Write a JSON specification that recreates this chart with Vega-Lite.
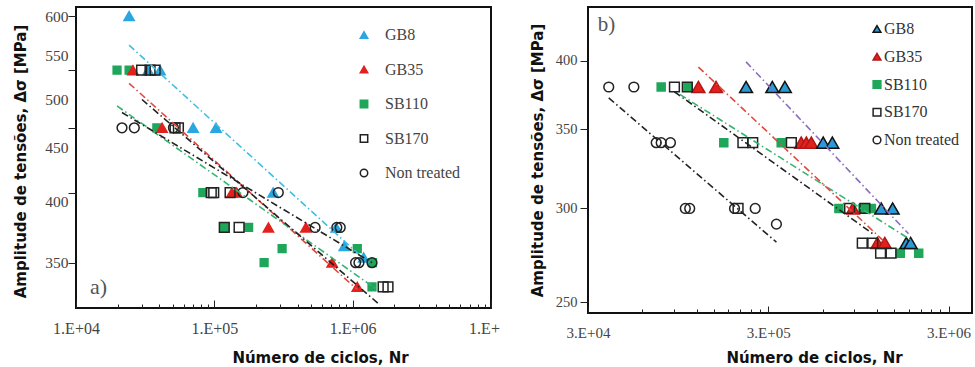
{
  "$schema": "https://vega.github.io/schema/vega-lite/v6.json",
  "padding": {"left": 12, "top": 6, "right": 0, "bottom": 0},
  "background": "white",
  "bounds": "flush",
  "spacing": 97,
  "config": {
    "view": {"stroke": "#111", "strokeWidth": 2},
    "axis": {"grid": false, "domain": false, "tickColor": "#222", "tickWidth": 1, "labelFont": "Liberation Serif", "labelColor": "#444", "labelOverlap": false, "titleFont": "DejaVu Sans", "titleFontWeight": "bold", "titleFontSize": 15, "titleColor": "#111"},
    "legend": {"title": null, "orient": "none", "padding": 0, "symbolStrokeWidth": 1.5, "labelFont": "Liberation Serif"}
  },
  "datasets": {
    "pointsA": [
      {"series": "SB110", "N": 19800, "S": 533}, {"series": "SB110", "N": 24200, "S": 533}, {"series": "SB110", "N": 38400, "S": 470}, {"series": "SB110", "N": 82600, "S": 408}, {"series": "SB110", "N": 118600, "S": 378}, {"series": "SB110", "N": 177000, "S": 378}, {"series": "SB110", "N": 229000, "S": 350}, {"series": "SB110", "N": 309000, "S": 361}, {"series": "SB110", "N": 1080000, "S": 361}, {"series": "SB110", "N": 1390000, "S": 350}, {"series": "SB110", "N": 1380000, "S": 332},
      {"series": "GB35", "N": 25800, "S": 533}, {"series": "GB35", "N": 41900, "S": 470}, {"series": "GB35", "N": 134000, "S": 408}, {"series": "GB35", "N": 145000, "S": 408}, {"series": "GB35", "N": 246000, "S": 378}, {"series": "GB35", "N": 459000, "S": 378}, {"series": "GB35", "N": 711000, "S": 350}, {"series": "GB35", "N": 1080000, "S": 332},
      {"series": "GB8", "N": 24200, "S": 600}, {"series": "GB8", "N": 33200, "S": 533}, {"series": "GB8", "N": 40500, "S": 533}, {"series": "GB8", "N": 70200, "S": 470}, {"series": "GB8", "N": 102800, "S": 470}, {"series": "GB8", "N": 266000, "S": 408}, {"series": "GB8", "N": 760000, "S": 378}, {"series": "GB8", "N": 870000, "S": 363}, {"series": "GB8", "N": 1200000, "S": 354},
      {"series": "SB170", "N": 29800, "S": 533}, {"series": "SB170", "N": 34300, "S": 533}, {"series": "SB170", "N": 37300, "S": 533}, {"series": "SB170", "N": 52000, "S": 470}, {"series": "SB170", "N": 55000, "S": 470}, {"series": "SB170", "N": 95000, "S": 408}, {"series": "SB170", "N": 99000, "S": 408}, {"series": "SB170", "N": 130000, "S": 408}, {"series": "SB170", "N": 118000, "S": 378}, {"series": "SB170", "N": 151000, "S": 378}, {"series": "SB170", "N": 1660000, "S": 332}, {"series": "SB170", "N": 1800000, "S": 332},
      {"series": "Non treated", "N": 21500, "S": 470}, {"series": "Non treated", "N": 26400, "S": 470}, {"series": "Non treated", "N": 50600, "S": 470}, {"series": "Non treated", "N": 161000, "S": 408}, {"series": "Non treated", "N": 290000, "S": 408}, {"series": "Non treated", "N": 535000, "S": 378}, {"series": "Non treated", "N": 768000, "S": 378}, {"series": "Non treated", "N": 813000, "S": 378}, {"series": "Non treated", "N": 1050000, "S": 350}, {"series": "Non treated", "N": 1110000, "S": 350}, {"series": "Non treated", "N": 1380000, "S": 350}
    ],
    "linesA": [
      {"fit": "GB8", "N": 24200, "S": 563}, {"fit": "GB8", "N": 1230000, "S": 352},
      {"fit": "GB35", "N": 24200, "S": 518}, {"fit": "GB35", "N": 1080000, "S": 330},
      {"fit": "SB110", "N": 19800, "S": 493}, {"fit": "SB110", "N": 1450000, "S": 331},
      {"fit": "SB170", "N": 30000, "S": 500}, {"fit": "SB170", "N": 1580000, "S": 319},
      {"fit": "Non treated", "N": 21500, "S": 486}, {"fit": "Non treated", "N": 1380000, "S": 350}
    ],
    "pointsB": [
      {"series": "SB110", "N": 76400, "S": 380}, {"series": "SB110", "N": 107600, "S": 380}, {"series": "SB110", "N": 170000, "S": 341}, {"series": "SB110", "N": 354000, "S": 341}, {"series": "SB110", "N": 740000, "S": 300}, {"series": "SB110", "N": 1006000, "S": 300}, {"series": "SB110", "N": 1120000, "S": 300}, {"series": "SB110", "N": 1620000, "S": 275}, {"series": "SB110", "N": 2050000, "S": 275},
      {"series": "GB35", "N": 123000, "S": 380}, {"series": "GB35", "N": 154000, "S": 380}, {"series": "GB35", "N": 457000, "S": 341}, {"series": "GB35", "N": 488000, "S": 341}, {"series": "GB35", "N": 520000, "S": 341}, {"series": "GB35", "N": 885000, "S": 300}, {"series": "GB35", "N": 1210000, "S": 280.5}, {"series": "GB35", "N": 1330000, "S": 280.5},
      {"series": "GB8", "N": 226000, "S": 380}, {"series": "GB8", "N": 316000, "S": 380}, {"series": "GB8", "N": 371000, "S": 380}, {"series": "GB8", "N": 605000, "S": 341}, {"series": "GB8", "N": 680000, "S": 341}, {"series": "GB8", "N": 1270000, "S": 300}, {"series": "GB8", "N": 1470000, "S": 300}, {"series": "GB8", "N": 1750000, "S": 280.5}, {"series": "GB8", "N": 1850000, "S": 280.5},
      {"series": "SB170", "N": 90500, "S": 380}, {"series": "SB170", "N": 106700, "S": 380}, {"series": "SB170", "N": 217000, "S": 341}, {"series": "SB170", "N": 246000, "S": 341}, {"series": "SB170", "N": 403000, "S": 341}, {"series": "SB170", "N": 204000, "S": 300}, {"series": "SB170", "N": 848000, "S": 300}, {"series": "SB170", "N": 1030000, "S": 300}, {"series": "SB170", "N": 997000, "S": 280.5}, {"series": "SB170", "N": 1140000, "S": 280.5}, {"series": "SB170", "N": 1260000, "S": 275}, {"series": "SB170", "N": 1440000, "S": 275},
      {"series": "Non treated", "N": 39100, "S": 380}, {"series": "Non treated", "N": 53900, "S": 380}, {"series": "Non treated", "N": 71700, "S": 341}, {"series": "Non treated", "N": 76400, "S": 341}, {"series": "Non treated", "N": 86000, "S": 341}, {"series": "Non treated", "N": 104000, "S": 300}, {"series": "Non treated", "N": 110000, "S": 300}, {"series": "Non treated", "N": 195000, "S": 300}, {"series": "Non treated", "N": 254000, "S": 300}, {"series": "Non treated", "N": 333000, "S": 291}
    ],
    "linesB": [
      {"fit": "Non treated", "N": 39100, "S": 372}, {"fit": "Non treated", "N": 333000, "S": 281},
      {"fit": "SB170", "N": 90500, "S": 376.5}, {"fit": "SB170", "N": 1140000, "S": 285.6},
      {"fit": "SB110", "N": 97000, "S": 374.6}, {"fit": "SB110", "N": 1870000, "S": 282},
      {"fit": "GB35", "N": 123000, "S": 395}, {"fit": "GB35", "N": 1330000, "S": 281},
      {"fit": "GB8", "N": 226000, "S": 399}, {"fit": "GB8", "N": 1800000, "S": 285.6}
    ]
  },
  "hconcat": [
    {
      "width": 415,
      "height": 301,
      "encoding": {
        "x": {"field": "N", "type": "quantitative", "scale": {"type": "log", "domain": [10000, 10000000], "nice": false},
          "axis": {"title": "Número de ciclos, Nr", "values": [10000, 20000, 30000, 40000, 50000, 60000, 70000, 80000, 90000, 100000, 200000, 300000, 400000, 500000, 600000, 700000, 800000, 900000, 1000000, 2000000, 3000000, 4000000, 5000000, 6000000, 7000000, 8000000, 9000000, 10000000],
            "labelExpr": "datum.value == 10000 ? '1.E+04' : datum.value == 100000 ? '1.E+05' : datum.value == 1000000 ? '1.E+06' : datum.value == 10000000 ? '1.E+' : ''",
            "tickSize": {"condition": {"test": "indexof([10000, 100000, 1000000, 10000000], datum.value) >= 0", "value": -8}, "value": -4},
            "labelOffset": {"condition": {"test": "datum.value == 10000000", "value": -7}, "value": 0},
            "labelPadding": 20, "labelFlush": false, "labelFontSize": 16,
            "titleX": 244, "titleY": 49, "titleBaseline": "middle"}},
        "y": {"field": "S", "type": "quantitative", "scale": {"type": "log", "domain": [317, 612], "nice": false},
          "axis": {"title": "Amplitude de tensões, Δσ [MPa]", "values": [350, 400, 408, 450, 470, 500, 533, 550, 600],
            "labelExpr": "indexof([350, 400, 450, 500, 550, 600], datum.value) >= 0 ? '' + datum.value : ''",
            "tickOpacity": {"condition": {"test": "indexof([350, 408, 470, 533, 600], datum.value) >= 0", "value": 1}, "value": 0},
            "tickSize": 8, "labelPadding": 0, "labelFontSize": 15.5,
            "titleX": -56, "titleY": 154, "titleBaseline": "middle"}}
      },
      "layer": [
        {
          "data": {"name": "pointsA"},
          "transform": [{"filter": {"field": "series", "oneOf": ["SB110"]}}],
          "mark": {"type": "point", "filled": true, "opacity": 1, "strokeWidth": 1.5, "size": 60},
          "encoding": {
            "shape": {"field": "series", "type": "nominal", "scale": {"domain": ["GB8", "GB35", "SB110", "SB170", "Non treated"], "range": ["triangle-up", "triangle-up", "square", "square", "circle"]},
              "legend": {"legendX": 280, "legendY": 20, "rowPadding": 18.5, "labelOffset": 13, "symbolSize": 55, "labelFontSize": 16, "labelColor": "#444"}},
            "fill": {"field": "series", "type": "nominal", "scale": {"domain": ["GB8", "GB35", "SB110", "SB170", "Non treated"], "range": ["#2aa6e0", "#e3211c", "#1fa65a", "transparent", "transparent"]},
              "legend": {"legendX": 280, "legendY": 20, "rowPadding": 18.5, "labelOffset": 13, "symbolSize": 55, "labelFontSize": 16, "labelColor": "#444"}},
            "stroke": {"field": "series", "type": "nominal", "scale": {"domain": ["GB8", "GB35", "SB110", "SB170", "Non treated"], "range": ["#2aa6e0", "#e3211c", "#1fa65a", "#222222", "#222222"]},
              "legend": {"legendX": 280, "legendY": 20, "rowPadding": 18.5, "labelOffset": 13, "symbolSize": 55, "labelFontSize": 16, "labelColor": "#444"}}
          }
        },
        {
          "data": {"name": "pointsA"},
          "transform": [{"filter": {"field": "series", "oneOf": ["GB35", "GB8"]}}],
          "mark": {"type": "point", "filled": true, "opacity": 1, "strokeWidth": 1.5, "size": 105},
          "encoding": {
            "shape": {"field": "series", "type": "nominal", "scale": {"domain": ["GB8", "GB35", "SB110", "SB170", "Non treated"], "range": ["triangle-up", "triangle-up", "square", "square", "circle"]},
              "legend": {"legendX": 280, "legendY": 20, "rowPadding": 18.5, "labelOffset": 13, "symbolSize": 55, "labelFontSize": 16, "labelColor": "#444"}},
            "fill": {"field": "series", "type": "nominal", "scale": {"domain": ["GB8", "GB35", "SB110", "SB170", "Non treated"], "range": ["#2aa6e0", "#e3211c", "#1fa65a", "transparent", "transparent"]},
              "legend": {"legendX": 280, "legendY": 20, "rowPadding": 18.5, "labelOffset": 13, "symbolSize": 55, "labelFontSize": 16, "labelColor": "#444"}},
            "stroke": {"field": "series", "type": "nominal", "scale": {"domain": ["GB8", "GB35", "SB110", "SB170", "Non treated"], "range": ["#2aa6e0", "#e3211c", "#1fa65a", "#222222", "#222222"]},
              "legend": {"legendX": 280, "legendY": 20, "rowPadding": 18.5, "labelOffset": 13, "symbolSize": 55, "labelFontSize": 16, "labelColor": "#444"}}
          }
        },
        {
          "data": {"name": "pointsA"},
          "transform": [{"filter": {"field": "series", "oneOf": ["SB170", "Non treated"]}}],
          "mark": {"type": "point", "filled": true, "opacity": 1, "strokeWidth": 1.5, "size": 95},
          "encoding": {
            "shape": {"field": "series", "type": "nominal", "scale": {"domain": ["GB8", "GB35", "SB110", "SB170", "Non treated"], "range": ["triangle-up", "triangle-up", "square", "square", "circle"]},
              "legend": {"legendX": 280, "legendY": 20, "rowPadding": 18.5, "labelOffset": 13, "symbolSize": 55, "labelFontSize": 16, "labelColor": "#444"}},
            "fill": {"field": "series", "type": "nominal", "scale": {"domain": ["GB8", "GB35", "SB110", "SB170", "Non treated"], "range": ["#2aa6e0", "#e3211c", "#1fa65a", "transparent", "transparent"]},
              "legend": {"legendX": 280, "legendY": 20, "rowPadding": 18.5, "labelOffset": 13, "symbolSize": 55, "labelFontSize": 16, "labelColor": "#444"}},
            "stroke": {"field": "series", "type": "nominal", "scale": {"domain": ["GB8", "GB35", "SB110", "SB170", "Non treated"], "range": ["#2aa6e0", "#e3211c", "#1fa65a", "#222222", "#222222"]},
              "legend": {"legendX": 280, "legendY": 20, "rowPadding": 18.5, "labelOffset": 13, "symbolSize": 55, "labelFontSize": 16, "labelColor": "#444"}}
          }
        },
        {
          "data": {"name": "linesA"},
          "mark": {"type": "line", "strokeWidth": 1.6, "strokeDash": [7, 3, 1.5, 3]},
          "encoding": {
            "color": {"field": "fit", "type": "nominal", "scale": {"domain": ["GB8", "GB35", "SB110", "SB170", "Non treated"], "range": ["#3cbfe0", "#e2473d", "#36b572", "#222222", "#222222"]}, "legend": null},
            "detail": {"field": "fit", "type": "nominal"}
          }
        },
        {
          "data": {"values": [{"label": "a)", "N": 12600, "S": 331.7}]},
          "mark": {"type": "text", "font": "Liberation Serif", "fontSize": 22, "color": "#555", "align": "left", "baseline": "middle"},
          "encoding": {"text": {"field": "label"}}
        }
      ]
    },
    {
      "width": 384,
      "height": 306,
      "encoding": {
        "x": {"field": "N", "type": "quantitative", "scale": {"type": "log", "domain": [30000, 4050000], "nice": false},
          "axis": {"title": "Número de ciclos, Nr", "values": [30000, 60000, 90000, 120000, 150000, 180000, 210000, 240000, 270000, 300000, 600000, 900000, 1200000, 1500000, 1800000, 2100000, 2400000, 2700000, 3000000],
            "labelExpr": "datum.value == 30000 ? '3.E+04' : datum.value == 300000 ? '3.E+05' : datum.value == 3000000 ? '3.E+06' : ''",
            "tickSize": {"condition": {"test": "indexof([30000, 300000, 3000000], datum.value) >= 0", "value": -7}, "value": -4},
            "labelPadding": 19, "labelFlush": false, "labelFontSize": 15,
            "titleX": 226, "titleY": 44, "titleBaseline": "middle"}},
        "y": {"field": "S", "type": "quantitative", "scale": {"type": "log", "domain": [244.8, 444], "nice": false},
          "axis": {"title": "Amplitude de tensões, Δσ [MPa]", "values": [250, 300, 350, 400],
            "labelExpr": "'' + datum.value",
            "tickSize": 8, "labelPadding": 3, "labelFontSize": 14.5,
            "titleX": -50.5, "titleY": 153, "titleBaseline": "middle"}}
      },
      "layer": [
        {
          "data": {"name": "pointsB"},
          "transform": [{"filter": {"field": "series", "oneOf": ["SB110"]}}],
          "mark": {"type": "point", "filled": true, "opacity": 1, "strokeWidth": 1.5, "size": 64},
          "encoding": {
            "shape": {"field": "series", "type": "nominal", "scale": {"domain": ["GB8", "GB35", "SB110", "SB170", "Non treated"], "range": ["triangle-up", "triangle-up", "square", "square", "circle"]},
              "legend": {"legendX": 281, "legendY": 14, "rowPadding": 11.75, "labelOffset": -1, "symbolSize": 60, "labelFontSize": 16, "labelColor": "#333"}},
            "fill": {"field": "series", "type": "nominal", "scale": {"domain": ["GB8", "GB35", "SB110", "SB170", "Non treated"], "range": ["#2b9ad6", "#e3211c", "#1fa65a", "transparent", "transparent"]},
              "legend": {"legendX": 281, "legendY": 14, "rowPadding": 11.75, "labelOffset": -1, "symbolSize": 60, "labelFontSize": 16, "labelColor": "#333"}},
            "stroke": {"field": "series", "type": "nominal", "scale": {"domain": ["GB8", "GB35", "SB110", "SB170", "Non treated"], "range": ["#111111", "#b01818", "#1fa65a", "#222222", "#222222"]},
              "legend": {"legendX": 281, "legendY": 14, "rowPadding": 11.75, "labelOffset": -1, "symbolSize": 60, "labelFontSize": 16, "labelColor": "#333"}}
          }
        },
        {
          "data": {"name": "pointsB"},
          "transform": [{"filter": {"field": "series", "oneOf": ["GB35", "GB8"]}}],
          "mark": {"type": "point", "filled": true, "opacity": 1, "strokeWidth": 1.5, "size": 165},
          "encoding": {
            "shape": {"field": "series", "type": "nominal", "scale": {"domain": ["GB8", "GB35", "SB110", "SB170", "Non treated"], "range": ["triangle-up", "triangle-up", "square", "square", "circle"]},
              "legend": {"legendX": 281, "legendY": 14, "rowPadding": 11.75, "labelOffset": -1, "symbolSize": 60, "labelFontSize": 16, "labelColor": "#333"}},
            "fill": {"field": "series", "type": "nominal", "scale": {"domain": ["GB8", "GB35", "SB110", "SB170", "Non treated"], "range": ["#2b9ad6", "#e3211c", "#1fa65a", "transparent", "transparent"]},
              "legend": {"legendX": 281, "legendY": 14, "rowPadding": 11.75, "labelOffset": -1, "symbolSize": 60, "labelFontSize": 16, "labelColor": "#333"}},
            "stroke": {"field": "series", "type": "nominal", "scale": {"domain": ["GB8", "GB35", "SB110", "SB170", "Non treated"], "range": ["#111111", "#b01818", "#1fa65a", "#222222", "#222222"]},
              "legend": {"legendX": 281, "legendY": 14, "rowPadding": 11.75, "labelOffset": -1, "symbolSize": 60, "labelFontSize": 16, "labelColor": "#333"}}
          }
        },
        {
          "data": {"name": "pointsB"},
          "transform": [{"filter": {"field": "series", "oneOf": ["SB170", "Non treated"]}}],
          "mark": {"type": "point", "filled": true, "opacity": 1, "strokeWidth": 1.5, "size": 95},
          "encoding": {
            "shape": {"field": "series", "type": "nominal", "scale": {"domain": ["GB8", "GB35", "SB110", "SB170", "Non treated"], "range": ["triangle-up", "triangle-up", "square", "square", "circle"]},
              "legend": {"legendX": 281, "legendY": 14, "rowPadding": 11.75, "labelOffset": -1, "symbolSize": 60, "labelFontSize": 16, "labelColor": "#333"}},
            "fill": {"field": "series", "type": "nominal", "scale": {"domain": ["GB8", "GB35", "SB110", "SB170", "Non treated"], "range": ["#2b9ad6", "#e3211c", "#1fa65a", "transparent", "transparent"]},
              "legend": {"legendX": 281, "legendY": 14, "rowPadding": 11.75, "labelOffset": -1, "symbolSize": 60, "labelFontSize": 16, "labelColor": "#333"}},
            "stroke": {"field": "series", "type": "nominal", "scale": {"domain": ["GB8", "GB35", "SB110", "SB170", "Non treated"], "range": ["#111111", "#b01818", "#1fa65a", "#222222", "#222222"]},
              "legend": {"legendX": 281, "legendY": 14, "rowPadding": 11.75, "labelOffset": -1, "symbolSize": 60, "labelFontSize": 16, "labelColor": "#333"}}
          }
        },
        {
          "data": {"name": "linesB"},
          "mark": {"type": "line", "strokeWidth": 1.6, "strokeDash": [7, 3, 1.5, 3]},
          "encoding": {
            "color": {"field": "fit", "type": "nominal", "scale": {"domain": ["GB8", "GB35", "SB110", "SB170", "Non treated"], "range": ["#8a6cc2", "#e2473d", "#36b572", "#222222", "#222222"]}, "legend": null},
            "detail": {"field": "fit", "type": "nominal"}
          }
        },
        {
          "data": {"values": [{"label": "b)", "N": 33970, "S": 428.5}]},
          "mark": {"type": "text", "font": "Liberation Serif", "fontSize": 21, "color": "#555", "align": "left", "baseline": "middle"},
          "encoding": {"text": {"field": "label"}}
        }
      ]
    }
  ],
  "resolve": {
    "scale": {"fill": "independent", "stroke": "independent", "shape": "independent", "color": "independent"},
    "legend": {"fill": "independent", "stroke": "independent", "shape": "independent"}
  }
}
